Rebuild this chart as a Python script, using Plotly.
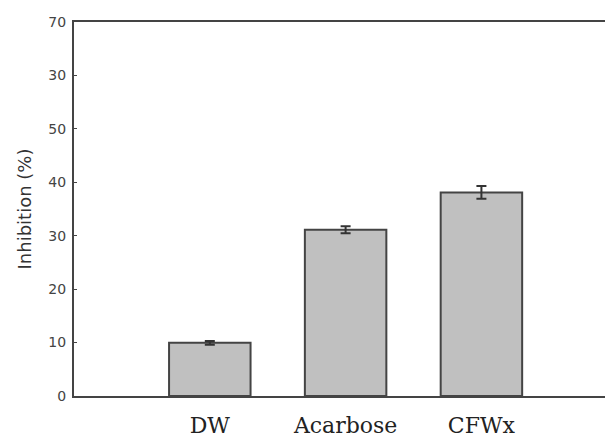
import plotly.graph_objects as go

categories = ["DW", "Acarbose", "CFWx"]
inhibition = [9.95, 31.1, 38.1]
errors = [0.35, 0.65, 1.2]
tick_vals = [0, 10, 20, 30, 40, 50, 60, 70]
tick_text = ["0", "10", "20", "30", "40", "50", "30", "70"]

fig = go.Figure()
fig.add_trace(go.Bar(
    x=list(range(len(categories))),
    y=inhibition,
    width=0.6,
    marker=dict(color="#c0c0c0", line=dict(color="#444444", width=2)),
    error_y=dict(type="data", array=errors, visible=True,
                 color="#333333", thickness=2, width=5),
))

fig.update_layout(
    width=605, height=437,
    margin=dict(l=74, r=0, t=22, b=41),
    paper_bgcolor="white", plot_bgcolor="white",
    showlegend=False,
    xaxis=dict(
        range=[-1.0, 2.91],
        tickmode="array",
        tickvals=list(range(len(categories))),
        ticktext=categories,
        tickfont=dict(family="DejaVu Serif", size=22, color="#222222"),
        showgrid=False, zeroline=False,
        showline=True, linecolor="#444444", linewidth=2,
        mirror=True, ticks="", ticklabelstandoff=9,
    ),
    yaxis=dict(
        range=[0, 70],
        tickmode="array",
        tickvals=tick_vals,
        ticktext=tick_text,
        tickfont=dict(family="DejaVu Sans", size=14, color="#444444"),
        showgrid=False, zeroline=False,
        showline=True, linecolor="#444444", linewidth=2,
        ticks="inside", ticklen=3, tickwidth=1, tickcolor="#444444",
        ticklabelstandoff=3,
        title=dict(text="Inhibition (%)",
                   font=dict(family="DejaVu Sans", size=18, color="#333333"),
                   standoff=12),
    ),
)

fig.write_html(
    "out.html",
    config={"displayModeBar": False},
    post_script="document.body.style.margin='0';document.body.style.overflow='hidden';",
)
